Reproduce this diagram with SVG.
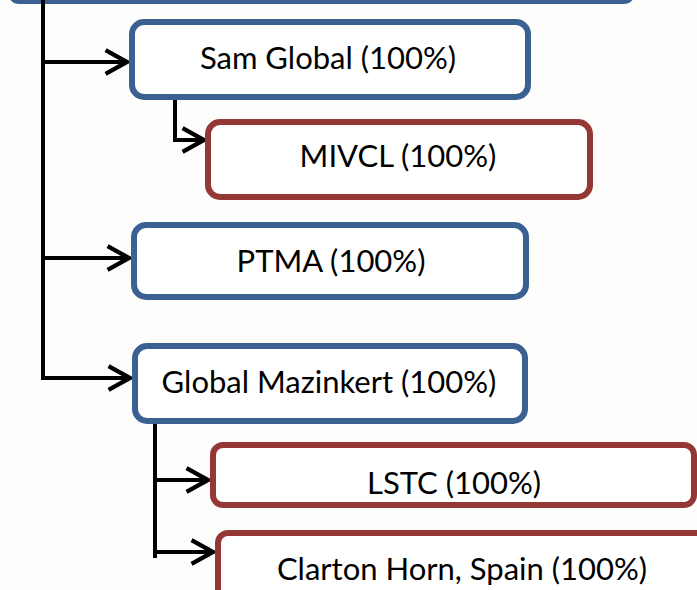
<svg xmlns="http://www.w3.org/2000/svg" width="697" height="590" viewBox="0 0 697 590">
<style>
.bx{fill:#fff;stroke-width:6}
.b{stroke:#3A6192}
.r{stroke:#953735}
.t{font-family:Lato,"Open Sans",sans-serif;font-size:31px;fill:#000;text-anchor:middle}
.c{fill:none;stroke:#000;stroke-width:4}
</style>
<defs>
<marker id="ah" markerUnits="userSpaceOnUse" markerWidth="30" markerHeight="30" viewBox="-24 -13 28 26" refX="0" refY="0" orient="auto">
<path d="M-20,-11 L0,0 L-20,11" fill="none" stroke="#000" stroke-width="4"/>
</marker>
</defs>
<rect width="697" height="590" fill="#fdfdfc"/>
<g id="top"><rect class="bx b" x="11" y="-40" width="621" height="41" rx="8"/></g>
<g id="connectors">
<path class="c" d="M43,0 V380"/>
<path class="c" d="M43,62 H127" marker-end="url(#ah)"/>
<path class="c" d="M43,258 H129" marker-end="url(#ah)"/>
<path class="c" d="M43,378 H130" marker-end="url(#ah)"/>
<path class="c" d="M140,97 H175 V140 H204" marker-end="url(#ah)"/>
<path class="c" d="M155,424 V558"/>
<path class="c" d="M155,480 H208" marker-end="url(#ah)"/>
<path class="c" d="M155,552 H213" marker-end="url(#ah)"/>
</g>
<g id="sam"><rect class="bx b" x="132" y="22" width="396" height="75" rx="12"/><text class="t" x="328" y="69">Sam Global (100%)</text></g>
<g id="mivcl"><rect class="bx r" x="208" y="122" width="382" height="75" rx="12"/><text class="t" x="398" y="167">MIVCL (100%)</text></g>
<g id="ptma"><rect class="bx b" x="134" y="225" width="392" height="72" rx="12"/><text class="t" x="331" y="272">PTMA (100%)</text></g>
<g id="gm"><rect class="bx b" x="135" y="346" width="390" height="75" rx="12"/><text class="t" x="329" y="393">Global Mazinkert (100%)</text></g>
<g id="lstc"><rect class="bx r" x="213" y="445" width="481" height="60" rx="10"/><text class="t" x="454" y="494">LSTC (100%)</text></g>
<g id="clarton"><rect class="bx r" x="218" y="533" width="500" height="80" rx="10"/><text class="t" x="462" y="580">Clarton Horn, Spain (100%)</text></g>
</svg>
